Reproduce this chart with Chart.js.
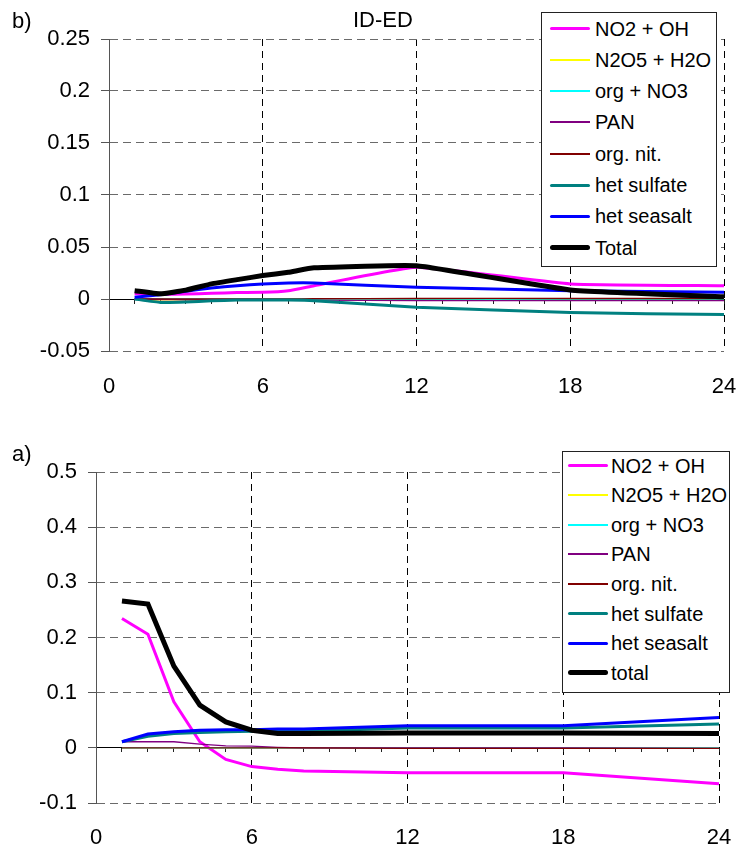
<!DOCTYPE html>
<html><head><meta charset="utf-8">
<script src="https://cdn.jsdelivr.net/npm/chart.js@4.4.1/dist/chart.umd.min.js"></script>
<style>
body{margin:0;background:#fff;}
#wrap{position:relative;width:740px;height:853px;overflow:hidden;font-family:'Liberation Sans',Arial,sans-serif;color:#000;}
.cv{position:absolute;left:0;}
.lbl{position:absolute;font-size:22px;line-height:22px;white-space:nowrap;}
.legend{position:absolute;border:1px solid #222;background:#fff;box-sizing:border-box;}
.ltxt{position:absolute;white-space:nowrap;font-size:20px;line-height:20px;}
.lsw{position:absolute;}
</style></head>
<body><div id="wrap">
<canvas id="cb" class="cv" width="740" height="410" style="top:0"></canvas>
<canvas id="ca" class="cv" width="740" height="443" style="top:410px"></canvas>
<div class="lbl" style="left:12px;top:10px">b)</div>
<div class="lbl" style="left:353px;top:9px">ID-ED</div>
<div class="lbl" style="left:12px;top:443px">a)</div>
</div>
<script>
// ---- data ----
const hours = [1, 2, 3, 4, 5, 6, 7, 8, 12, 18, 24];
const namesB = ['NO2 + OH', 'N2O5 + H2O', 'org + NO3', 'PAN', 'org. nit.', 'het sulfate', 'het seasalt', 'Total'];
const namesA = ['NO2 + OH', 'N2O5 + H2O', 'org + NO3', 'PAN', 'org. nit.', 'het sulfate', 'het seasalt', 'total'];
const titleB = 'ID-ED';

// panel b) ID-ED
const no2ohB   = [0.005, 0.0045, 0.0048, 0.0055, 0.0062, 0.0064, 0.008, 0.0128, 0.0305, 0.0145, 0.0128];
const n2o5B    = [0, -0.002, -0.002, -0.001, 0, 0, 0, 0, -0.001, -0.001, -0.001];
const orgNo3B  = [0, 0, 0, 0, 0, 0, 0, 0, 0, 0, 0];
const panB     = [0, -0.0005, -0.0008, -0.0008, -0.001, -0.001, -0.001, -0.001, -0.0015, -0.0015, -0.0015];
const orgNitB  = [0, 0, 0, 0, 0, 0, 0, 0.0003, 0.0005, 0.0005, 0.0005];
const hetSulfB = [0, -0.0033, -0.003, -0.0018, -0.001, -0.001, -0.001, -0.0016, -0.008, -0.013, -0.015];
const hetSeaB  = [0.0016, 0.004, 0.0074, 0.0106, 0.0128, 0.0145, 0.0154, 0.0154, 0.0112, 0.008, 0.0064];
const totalB   = [0.008, 0.005, 0.0085, 0.0145, 0.0186, 0.0225, 0.0257, 0.030, 0.032, 0.0087, 0.0022];

// panel a)
const no2ohA   = [0.2345, 0.206, 0.0834, 0.011, -0.021, -0.034, -0.039, -0.042, -0.045, -0.045, -0.065];
const n2o5A    = [0, 0, 0, 0, 0, 0, 0, 0, 0, 0, 0];
const orgNo3A  = [0, 0, 0, 0, 0, 0, 0, 0, 0, 0, 0];
const panA     = [0.011, 0.011, 0.011, 0.0067, 0.0036, 0.003, 0.001, 0, 0, 0, -0.001];
const orgNitA  = [0, 0, 0, 0, 0, 0, 0, 0, -0.001, -0.001, -0.001];
const hetSulfA = [0.011, 0.021, 0.026, 0.028, 0.029, 0.030, 0.030, 0.030, 0.036, 0.036, 0.043];
const hetSeaA  = [0.011, 0.025, 0.029, 0.032, 0.033, 0.033, 0.034, 0.034, 0.040, 0.040, 0.055];
const totalA   = [0.266, 0.2605, 0.148, 0.0774, 0.047, 0.032, 0.026, 0.026, 0.027, 0.027, 0.026];

const seriesB = [no2ohB, n2o5B, orgNo3B, panB, orgNitB, hetSulfB, hetSeaB, totalB];
const seriesA = [no2ohA, n2o5A, orgNo3A, panA, orgNitA, hetSulfA, hetSeaA, totalA];

const xTicks = [0, 6, 12, 18, 24];
const yTicksB = [-0.05, 0, 0.05, 0.1, 0.15, 0.2, 0.25];
const yTicksA = [-0.1, 0, 0.1, 0.2, 0.3, 0.4, 0.5];

// ---- styles ----
const colors = ['#FF00FF', '#FFFF00', '#00FFFF', '#800080', '#800000', '#008080', '#0000FF', '#000000'];
const widths = [3, 1.3, 1.3, 1.3, 1.3, 3, 3, 5];

Chart.defaults.font.family = "'Liberation Sans', Arial, sans-serif";
Chart.defaults.color = '#000';

function makeDatasets(names, series, tension) {
  return series.map((vals, i) => ({
    label: names[i],
    data: hours.map((h, j) => ({x: h, y: vals[j]})),
    borderColor: colors[i],
    backgroundColor: colors[i],
    borderWidth: widths[i],
    pointRadius: 0,
    tension: tension,
    fill: false,
    order: series.length - 1 - i
  }));
}

function fmt(v) { return String(parseFloat(Number(v).toFixed(3))); }

function makeChart(canvasId, names, series, yTicks, geom) {
  const yMin = yTicks[0], yMax = yTicks[yTicks.length - 1];
  return new Chart(document.getElementById(canvasId), {
    type: 'line',
    data: {datasets: makeDatasets(names, series, geom.tension)},
    options: {
      responsive: false,
      animation: false,
      events: [],
      layout: {padding: {top: geom.padTop, right: geom.padRight, left: 0, bottom: 0}},
      plugins: {legend: {display: false}, tooltip: {enabled: false}, title: {display: false}},
      scales: {
        x: {
          type: 'linear', position: 'bottom',
          min: xTicks[0], max: xTicks[xTicks.length - 1],
          afterBuildTicks: s => { s.ticks = xTicks.map(v => ({value: v})); },
          ticks: {font: {size: 22}, padding: 0, maxRotation: 0, autoSkip: false},
          grid: {
            drawTicks: true, tickLength: geom.xPad, tickColor: 'rgba(0,0,0,0)', lineWidth: 1,
            color: c => (c.tick && c.tick.value === 0) ? 'rgba(0,0,0,0)' : '#000'
          },
          border: {display: false, dash: [7, 5]},
          afterFit: s => { s.height = geom.xHeight; }
        },
        x2: {
          type: 'linear', axis: 'x', position: {y: 0},
          min: xTicks[0], max: xTicks[xTicks.length - 1],
          ticks: {display: false, stepSize: 1},
          grid: {drawOnChartArea: false, drawTicks: true, tickLength: 4, tickColor: '#222', tickWidth: 1, tickBorderDash: []},
          border: {display: true, color: '#000', width: 1},
          afterFit: s => { s.paddingLeft = 0; s.paddingRight = 0; }
        },
        y: {
          type: 'linear', position: 'left',
          min: yMin, max: yMax,
          afterBuildTicks: s => { s.ticks = yTicks.map(v => ({value: v})); },
          ticks: {font: {size: 22}, padding: 11, callback: v => fmt(v)},
          grid: {color: '#6a6a6a', lineWidth: 1, drawTicks: true, tickLength: 8, tickColor: '#555', tickBorderDash: []},
          border: {display: true, color: '#555', width: 1, dash: [8, 5]},
          afterFit: s => { s.width = geom.yWidth; }
        }
      }
    }
  });
}

makeChart('cb', namesB, seriesB, yTicksB, {padTop: 39, padRight: 16, xHeight: 59, xPad: 23, yWidth: 109, tension: 0.12});
makeChart('ca', namesA, seriesA, yTicksA, {padTop: 62, padRight: 21, xHeight: 50, xPad: 22, yWidth: 96, tension: 0});

// ---- legends (HTML) ----
function buildLegend(names, g) {
  const wrap = document.getElementById('wrap');
  const box = document.createElement('div');
  box.className = 'legend';
  box.style.left = g.left + 'px'; box.style.top = g.top + 'px';
  box.style.width = g.w + 'px'; box.style.height = g.h + 'px';
  wrap.appendChild(box);
  names.forEach((n, i) => {
    const cy = g.row0 + g.dy * i;
    const sw = document.createElement('div');
    sw.className = 'lsw';
    const lw = widths[i] < 2 ? 2 : widths[i];
    sw.style.left = g.swL + 'px'; sw.style.width = (g.swR - g.swL) + 'px';
    sw.style.top = (cy - lw / 2) + 'px'; sw.style.height = lw + 'px';
    sw.style.background = colors[i];
    if (widths[i] >= 3) sw.style.borderRadius = (lw / 2) + 'px';
    wrap.appendChild(sw);
    const t = document.createElement('div');
    t.className = 'ltxt';
    t.textContent = n;
    t.style.left = g.textX + 'px';
    t.style.top = (cy - 10) + 'px';
    wrap.appendChild(t);
  });
}
buildLegend(namesB, {left: 541, top: 12, w: 176, h: 255, row0: 28.5, dy: 31.3, swL: 550, swR: 590, textX: 595});
buildLegend(namesA, {left: 562, top: 451, w: 168, h: 242, row0: 465.5, dy: 29.6, swL: 568, swR: 608, textX: 611});
</script>
</body></html>
